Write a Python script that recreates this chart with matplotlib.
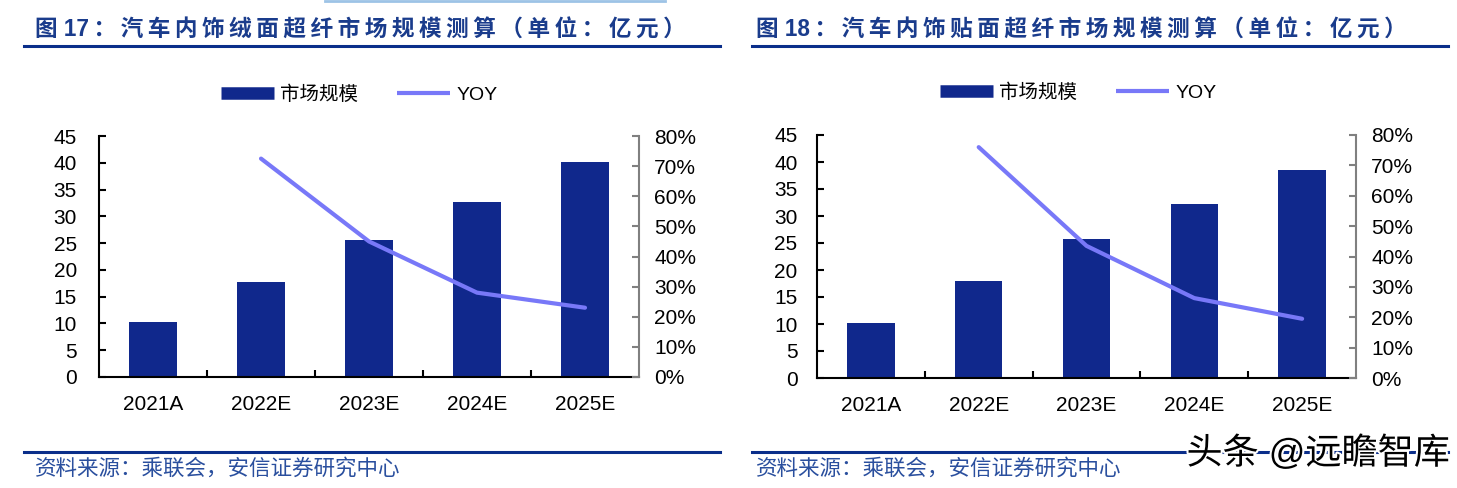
import numpy as np
import matplotlib
matplotlib.use('Agg')
import matplotlib.pyplot as plt
from matplotlib.lines import Line2D
from matplotlib.ticker import PercentFormatter, MultipleLocator, FixedLocator
import matplotlib.patheffects as pe

plt.rcParams['font.family'] = ['Liberation Sans', 'Noto Sans CJK SC', 'DejaVu Sans']

# data
categories = ['2021A', '2022E', '2023E', '2024E', '2025E']
size_17 = [10.2, 17.7, 25.6, 32.7, 40.2]
yoy_17 = [np.nan, 0.725, 0.45, 0.28, 0.23]
size_18 = [10.1, 17.9, 25.7, 32.3, 38.6]
yoy_18 = [np.nan, 0.76, 0.435, 0.263, 0.195]

title_17 = ['图', '17', '：汽车内饰绒面超纤市场规模测算（单位：亿元）']
title_18 = ['图', '18', '：汽车内饰贴面超纤市场规模测算（单位：亿元）']
source = '资料来源：乘联会，安信证券研究中心'
legend_labels = ['市场规模', 'YOY']

bar_color = '#10288c'
line_color = '#7878f8'
title_color = '#1a3c8c'
rule_color = '#0a2e8a'

W, H = 1457, 488
fig = plt.figure(figsize=(W / 100, H / 100), dpi=100)


def px(x0, y0, x1, y1):
    # pixel box (top-left origin) -> figure fraction rect
    return [x0 / W, 1 - y1 / H, (x1 - x0) / W, (y1 - y0) / H]


def spaced(parts):
    # the report titles are letter-spaced, the number stays tight
    return parts[0] + ' ' + parts[1] + '\u2009' + '\u2009'.join(parts[2])


def panel(rect, sizes, yoys, title, tx, rule, leg_x, leg_y, lpad):
    ax = fig.add_axes(rect)
    x = np.arange(len(categories))
    ax.bar(x, sizes, width=0.44, color=bar_color, zorder=2)
    ax.set_xlim(-0.5, len(categories) - 0.5)
    ax.set_ylim(0, 45)
    ax.yaxis.set_major_locator(MultipleLocator(5))
    ax.set_xticks(x)
    ax.set_xticklabels(categories)
    ax.xaxis.set_minor_locator(FixedLocator(np.arange(0.5, len(categories) - 1, 1)))
    ax.tick_params(axis='x', which='major', length=0, pad=13, labelsize=15)
    ax.tick_params(axis='x', which='minor', direction='in', length=5, width=1.5)
    ax.tick_params(axis='y', direction='in', length=5, width=1.5, pad=lpad, labelsize=15)
    ax.spines['top'].set_visible(False)
    ax.spines['right'].set_visible(False)
    for s in ['left', 'bottom']:
        ax.spines[s].set_linewidth(1.5)

    ax2 = ax.twinx()
    ax2.plot(x, yoys, color=line_color, lw=3, solid_capstyle='round', zorder=3)
    ax2.set_ylim(0, 0.8)
    ax2.yaxis.set_major_locator(MultipleLocator(0.1))
    ax2.yaxis.set_major_formatter(PercentFormatter(1.0, decimals=0))
    ax2.tick_params(axis='y', direction='in', length=5, width=1.5, color='#808080',
                    pad=11, labelsize=15)
    for s in ['top', 'left', 'bottom']:
        ax2.spines[s].set_visible(False)
    ax2.spines['right'].set_color('#808080')
    ax2.spines['right'].set_linewidth(1.5)

    handles = [Line2D([], [], color=bar_color, lw=9, solid_capstyle='butt'),
               Line2D([], [], color=line_color, lw=3, solid_capstyle='butt')]
    fig.legend(handles, legend_labels, loc='center left',
               bbox_to_anchor=(leg_x / W, 1 - leg_y / H), ncol=2, frameon=False,
               fontsize=14, handlelength=2.7, handletextpad=0.35,
               columnspacing=2.0, borderpad=0, borderaxespad=0)

    fig.text(tx / W, 1 - 30 / H, spaced(title), fontsize=16.3,
             fontweight='bold', color=title_color, va='center', ha='left')
    fig.add_artist(Line2D([rule[0] / W, rule[1] / W], [1 - 46 / H] * 2,
                          color=rule_color, lw=2.2))
    fig.add_artist(Line2D([rule[0] / W, rule[1] / W], [1 - 452 / H] * 2,
                          color=rule_color, lw=2.2))
    fig.text(tx / W, 1 - 469 / H, source, fontsize=15.5, color='#2a4f9e',
             style='italic', va='center', ha='left')
    return ax


panel(px(99, 136, 639, 377), size_17, yoy_17, title_17, 35, (24, 720), 221, 95, 16)
panel(px(817, 135, 1356, 378), size_18, yoy_18, title_18, 756, (752, 1448), 940, 93, 14)

# faint rule at the very top left from a previous block
fig.add_artist(Line2D([325 / W, 665 / W], [1 - 1 / H] * 2, color='#9dc3e6', lw=2))

fig.text(1450 / W, 1 - 454 / H, '头条 @远瞻智库', fontsize=26, color='black',
         ha='right', va='center',
         path_effects=[pe.withStroke(linewidth=3, foreground='white')])

fig.savefig('out.png', dpi=100)
